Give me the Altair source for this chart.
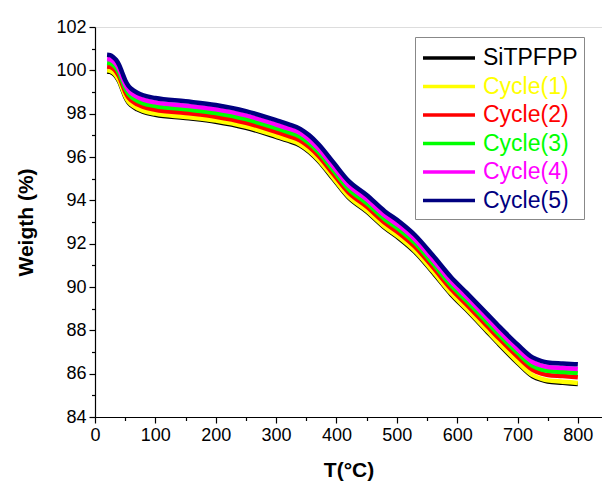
import altair as alt
import pandas as pd

temps = [20, 25, 30, 35, 40, 45, 50, 55, 60, 70, 80, 100, 150, 200, 250, 300, 320, 340, 355,
         370, 395, 420, 450, 480, 505, 530, 560, 590, 615, 650, 670, 700, 725, 740, 750, 775, 800]

sitpfpp = [99.95, 99.93, 99.85, 99.71, 99.48, 99.13, 98.78, 98.53, 98.38, 98.20, 98.08, 97.95,
           97.80, 97.63, 97.35, 96.93, 96.75, 96.53, 96.23, 95.83, 94.98, 94.13, 93.48, 92.73,
           92.22, 91.62, 90.67, 89.66, 88.96, 87.93, 87.34, 86.50, 85.88, 85.71, 85.64, 85.58, 85.52]
cycle1 = [100.00, 99.98, 99.90, 99.76, 99.53, 99.18, 98.83, 98.58, 98.43, 98.25, 98.13, 98.00,
          97.85, 97.68, 97.40, 96.98, 96.80, 96.58, 96.28, 95.88, 95.03, 94.18, 93.53, 92.78,
          92.27, 91.67, 90.72, 89.71, 89.01, 87.98, 87.39, 86.55, 85.93, 85.76, 85.69, 85.63, 85.57]
cycle2 = [100.18, 100.16, 100.08, 99.94, 99.71, 99.36, 99.01, 98.76, 98.61, 98.43, 98.31, 98.18,
          98.03, 97.86, 97.58, 97.16, 96.98, 96.76, 96.46, 96.06, 95.21, 94.36, 93.71, 92.96,
          92.46, 91.86, 90.91, 89.91, 89.21, 88.19, 87.61, 86.79, 86.18, 86.00, 85.94, 85.89, 85.83]
cycle3 = [100.35, 100.33, 100.25, 100.11, 99.88, 99.53, 99.18, 98.93, 98.78, 98.60, 98.48, 98.35,
          98.20, 98.03, 97.75, 97.33, 97.15, 96.93, 96.63, 96.23, 95.38, 94.53, 93.88, 93.13,
          92.63, 92.03, 91.08, 90.08, 89.38, 88.37, 87.79, 86.97, 86.36, 86.19, 86.13, 86.08, 86.03]
cycle4 = [100.52, 100.50, 100.42, 100.28, 100.05, 99.70, 99.35, 99.10, 98.95, 98.77, 98.65, 98.52,
          98.37, 98.20, 97.92, 97.50, 97.32, 97.10, 96.80, 96.40, 95.55, 94.70, 94.05, 93.30,
          92.80, 92.20, 91.25, 90.25, 89.55, 88.55, 87.96, 87.14, 86.54, 86.37, 86.31, 86.26, 86.21]
cycle5 = [100.72, 100.70, 100.62, 100.48, 100.25, 99.90, 99.55, 99.30, 99.15, 98.97, 98.85, 98.72,
          98.57, 98.40, 98.12, 97.70, 97.52, 97.30, 97.00, 96.60, 95.75, 94.90, 94.25, 93.50,
          93.00, 92.40, 91.45, 90.45, 89.75, 88.75, 88.17, 87.35, 86.75, 86.58, 86.52, 86.47, 86.43]

series_names = ["SiTPFPP", "Cycle(1)", "Cycle(2)", "Cycle(3)", "Cycle(4)", "Cycle(5)"]
series_colors = ["#000000", "#FFFF00", "#FF0000", "#00FF00", "#FF00FF", "#000080"]
series_values = [sitpfpp, cycle1, cycle2, cycle3, cycle4, cycle5]

x_ticks = [0, 100, 200, 300, 400, 500, 600, 700, 800]
x_minor = [50, 150, 250, 350, 450, 550, 650, 750, 850]
y_ticks = [84, 86, 88, 90, 92, 94, 96, 98, 100, 102]
y_minor = [85, 87, 89, 91, 93, 95, 97, 99, 101]

rows = []
for order, (name, vals) in enumerate(zip(series_names, series_values)):
    for t, w in zip(temps, vals):
        rows.append({"T": t, "W": w, "series": name, "ord": order})
df = pd.DataFrame(rows)

font = "Liberation Sans"

label_color_expr = " : ".join(
    f"datum.label == '{n}' ? '{c}'" for n, c in zip(series_names, series_colors)
) + " : 'black'"

x_scale = alt.Scale(domain=[0, 840], nice=False, zero=False)
y_scale = alt.Scale(domain=[84, 102], nice=False, zero=False)

common_axis = dict(grid=False, labelFont=font, titleFont=font, domainColor="black",
                   tickColor="black", labelColor="black", domainWidth=1.2, tickWidth=1.2,
                   labelFlush=False)

x_enc = alt.X("T:Q", scale=x_scale,
              axis=alt.Axis(values=x_ticks, title="T(°C)", orient="bottom", labelFontSize=18,
                            titleFontSize=21, titleFontWeight="bold", tickSize=6,
                            titlePadding=15, labelPadding=3, **common_axis))
y_enc = alt.Y("W:Q", scale=y_scale,
              axis=alt.Axis(values=y_ticks, title="Weigth (%)", orient="left", labelFontSize=18,
                            titleFontSize=21, titleFontWeight="bold", tickSize=6,
                            titlePadding=19, labelPadding=3, **common_axis))

lines = alt.Chart(df).mark_line(strokeWidth=4.5, clip=True, interpolate="monotone").encode(
    x=x_enc,
    y=y_enc,
    color=alt.Color("series:N",
                    scale=alt.Scale(domain=series_names, range=series_colors),
                    sort=series_names,
                    legend=alt.Legend(title=None, orient="none", legendX=320, legendY=10,
                                      symbolType="M-2,0H2", symbolStrokeWidth=3.5, symbolSize=676,
                                      symbolOffset=13, labelOffset=19,
                                      labelFontSize=23, labelFont=font,
                                      labelColor=alt.ExprRef(label_color_expr),
                                      strokeColor="#888888", padding=6, rowPadding=1.5,
                                      fillColor="white", labelLimit=300)),
    order=alt.Order("ord:Q"),
)

minor = alt.Chart(df).mark_point(opacity=0).encode(
    x=alt.X("T:Q", scale=x_scale,
            axis=alt.Axis(values=x_minor, orient="bottom", labels=False, domain=False,
                          title=None, grid=False, tickSize=3.5, tickColor="black", tickWidth=1.2)),
    y=alt.Y("W:Q", scale=y_scale,
            axis=alt.Axis(values=y_minor, orient="left", labels=False, domain=False,
                          title=None, grid=False, tickSize=3.5, tickColor="black", tickWidth=1.2)),
)

chart = alt.layer(lines, minor).resolve_axis(x="independent", y="independent").properties(
    width=507, height=390,
    padding={"left": 95, "top": 27, "right": 0, "bottom": 70},
    autosize=alt.AutoSizeParams(type="none"),
).configure_view(stroke=None).configure(background="white")

chart.save("out.html", embed_options={"renderer": "svg", "actions": False})
